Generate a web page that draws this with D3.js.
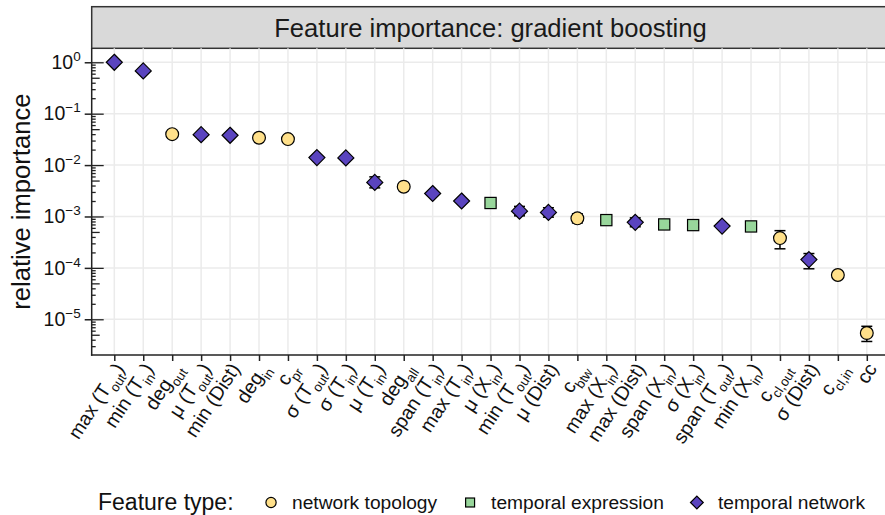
<!DOCTYPE html>
<html>
<head>
<meta charset="utf-8">
<script src="https://cdn.jsdelivr.net/npm/d3@7"></script>
<style>
  body { margin: 0; background: #fff; }
  svg { display: block; font-family: "Liberation Sans", Arial, sans-serif; }
</style>
</head>
<body>
<svg id="chart" width="885" height="515"></svg>
<script>
// feature labels, "_{..}" marks a subscript
const features = [
  "max (T_{out})", "min (T_{in})", "deg_{out}", "μ (T_{out})", "min (Dist)",
  "deg_{in}", "c_{pr}", "σ (T_{out})", "σ (T_{in})", "μ (T_{in})",
  "deg_{all}", "span (T_{in})", "max (T_{in})", "μ (X_{in})", "min (T_{out})",
  "μ (Dist)", "c_{btw}", "max (X_{in})", "max (Dist)", "span (X_{in})",
  "σ (X_{in})", "span (T_{out})", "min (X_{in})", "c_{cl,out}", "σ (Dist)",
  "c_{cl,in}", "cc"
];
// N = network topology, E = temporal expression, T = temporal network
const featureType = [
  "T", "T", "N", "T", "T", "N", "N", "T", "T", "T",
  "N", "T", "T", "E", "T", "T", "N", "E", "T", "E",
  "E", "T", "E", "N", "T", "N", "N"
];
const importance = [
  1.0, 0.68, 0.040, 0.039, 0.038, 0.034, 0.032, 0.0140, 0.0138, 0.0046,
  0.0038, 0.0028, 0.0020, 0.00183, 0.00127, 0.00120, 0.00092, 0.00085, 0.00077, 0.00070,
  0.00068, 0.00065, 0.00064, 0.00038, 0.000145, 0.0000727, 0.0000054
];
const lower = [
  0.94, 0.64, 0.036, 0.037, 0.036, 0.031, 0.029, 0.0132, 0.0130, 0.0036,
  0.0034, 0.00265, 0.00189, 0.00165, 0.00103, 0.00097, 0.00075, 0.00078, 0.00063, 0.00064,
  0.00062, 0.00061, 0.00058, 0.000235, 0.000096, 0.000066, 0.0000037
];
const upper = [
  1.06, 0.72, 0.044, 0.041, 0.040, 0.037, 0.035, 0.0148, 0.0146, 0.0059,
  0.0042, 0.00296, 0.00212, 0.00203, 0.00157, 0.00148, 0.00113, 0.00093, 0.00094, 0.00077,
  0.00074, 0.00069, 0.0007, 0.00053, 0.00019, 0.00008, 0.0000073
];
const yTicks = [1, 1e-1, 1e-2, 1e-3, 1e-4, 1e-5];
const legendTypes = ["N", "E", "T"];
const legendLabels = ["network topology", "temporal expression", "temporal network"];

const typeFill = { N: "#FFE08A", E: "#98D69B", T: "#5A44BF" };

const data = features.map((f, i) => ({
  name: f, type: featureType[i], v: importance[i], lo: lower[i], hi: upper[i]
}));

const svg = d3.select("#chart");
const panel = { left: 91.7, right: 892, top: 48.3, bottom: 355 };

const x = d3.scalePoint().domain(features).range([114.3, 866.8]);
const y = d3.scaleLog()
  .domain([Math.pow(10, -5.695), Math.pow(10, 0.272)])
  .range([panel.bottom, panel.top]);

// strip
svg.append("rect")
  .attr("x", panel.left).attr("y", 6.7)
  .attr("width", panel.right - panel.left).attr("height", panel.top - 6.7)
  .attr("fill", "#D9D9D9").attr("stroke", "#333").attr("stroke-width", 1.5);
svg.append("text")
  .attr("x", 490.5).attr("y", 36.5)
  .attr("text-anchor", "middle").attr("font-size", 25.6).attr("fill", "#1a1a1a")
  .text("Feature importance: gradient boosting");

// grid
const grid = svg.append("g").attr("stroke", "#EBEBEB").attr("stroke-width", 1.5);
grid.selectAll(".gy").data(yTicks).enter().append("line")
  .attr("x1", panel.left).attr("x2", panel.right)
  .attr("y1", d => y(d)).attr("y2", d => y(d));
grid.selectAll(".gx").data(features).enter().append("line")
  .attr("x1", d => x(d)).attr("x2", d => x(d))
  .attr("y1", panel.top).attr("y2", panel.bottom);

// y axis
const yAxis = svg.append("g")
  .attr("transform", `translate(${panel.left},0)`)
  .call(d3.axisLeft(y).tickValues(yTicks).tickSize(7).tickPadding(4).tickFormat(() => ""));
yAxis.select(".domain").remove();
yAxis.selectAll(".tick line").attr("stroke", "#222").attr("stroke-width", 1.5);
yAxis.selectAll(".tick text").each(function(d) {
  const t = d3.select(this).attr("font-size", 19.5).attr("fill", "#111").attr("font-family", null);
  t.append("tspan").text("10");
  const e = Math.round(Math.log10(d));
  t.append("tspan").attr("font-size", 13.5).attr("dy", -8)
    .text(e < 0 ? "\u2212" + (-e) : String(e));
});

// log ticks inside the panel
const minors = [], fives = [];
for (let e = -6; e <= 0; e++) {
  for (let m = 2; m <= 9; m++) {
    const v = m * Math.pow(10, e);
    if (v < y.domain()[0] || v > y.domain()[1]) continue;
    (m === 5 ? fives : minors).push(v);
  }
}
[[minors, 4], [fives, 8], [yTicks, 12]].forEach(([vals, len]) => {
  const g = svg.append("g")
    .attr("transform", `translate(${panel.left},0)`)
    .call(d3.axisRight(y).tickValues(vals).tickSize(len).tickFormat(""));
  g.select(".domain").remove();
  g.selectAll(".tick line").attr("stroke", "#222").attr("stroke-width", 1.3);
});

// x axis
const xAxis = svg.append("g")
  .attr("transform", `translate(0,${panel.bottom})`)
  .call(d3.axisBottom(x).tickSize(6).tickFormat(""));
xAxis.select(".domain").remove();
xAxis.selectAll(".tick line").attr("stroke", "#222").attr("stroke-width", 1.5);

function richText(sel, label, size) {
  const parts = label.split(/(_\{[^}]*\})/).filter(p => p.length);
  let shifted = false;
  parts.forEach(p => {
    if (p.startsWith("_{")) {
      sel.append("tspan").attr("font-size", size * 0.68).attr("dy", size * 0.32)
        .text(p.slice(2, -1));
      shifted = true;
    } else {
      const ts = sel.append("tspan").text(p);
      if (shifted) { ts.attr("dy", -size * 0.32); shifted = false; }
    }
  });
}

svg.append("g").selectAll("text").data(features).enter().append("text")
  .attr("transform", d => `translate(${x(d) + 5},${panel.bottom + 10}) rotate(-57)`)
  .attr("text-anchor", "end").attr("dy", "0.35em")
  .attr("font-size", 19.5).attr("fill", "#111")
  .each(function(d) { richText(d3.select(this), d, 19.5); });

// axis lines
svg.append("line").attr("x1", panel.left).attr("x2", panel.left)
  .attr("y1", panel.top).attr("y2", panel.bottom + 0.75)
  .attr("stroke", "#222").attr("stroke-width", 1.5);
svg.append("line").attr("x1", panel.left - 0.75).attr("x2", panel.right)
  .attr("y1", panel.bottom).attr("y2", panel.bottom)
  .attr("stroke", "#222").attr("stroke-width", 1.5);

// y title
svg.append("text")
  .attr("transform", `translate(30,${(panel.top + panel.bottom) / 2}) rotate(-90)`)
  .attr("text-anchor", "middle").attr("font-size", 25.6).attr("fill", "#111")
  .text("relative importance");

// error bars
const eb = svg.append("g").attr("stroke", "#000").attr("stroke-width", 1.5);
data.forEach(d => {
  const cx = x(d.name);
  eb.append("line").attr("x1", cx).attr("x2", cx).attr("y1", y(d.lo)).attr("y2", y(d.hi));
  eb.append("line").attr("x1", cx - 5.5).attr("x2", cx + 5.5).attr("y1", y(d.lo)).attr("y2", y(d.lo));
  eb.append("line").attr("x1", cx - 5.5).attr("x2", cx + 5.5).attr("y1", y(d.hi)).attr("y2", y(d.hi));
});

function marker(g, type, cx, cy, s) {
  let m;
  if (type === "N") {
    m = g.append("circle").attr("cx", cx).attr("cy", cy).attr("r", 6.4 * s);
  } else if (type === "E") {
    const h = 5.6 * s;
    m = g.append("rect").attr("x", cx - h).attr("y", cy - h).attr("width", 2 * h).attr("height", 2 * h);
  } else {
    const h = 8 * s;
    m = g.append("path").attr("d", `M${cx},${cy - h}L${cx + h},${cy}L${cx},${cy + h}L${cx - h},${cy}Z`);
  }
  m.attr("fill", typeFill[type]).attr("stroke", "#000").attr("stroke-width", 1.2);
}

const pts = svg.append("g");
data.forEach(d => marker(pts, d.type, x(d.name), y(d.v), 1));

// legend
const leg = svg.append("g");
const title = leg.append("text").attr("x", 98).attr("y", 510).attr("font-size", 23).attr("fill", "#111")
  .text("Feature type:");
let cursor = 98 + title.node().getComputedTextLength();
legendTypes.forEach((t, i) => {
  const kx = cursor + (i === 0 ? 37.5 : 33);
  marker(leg, t, kx, 502.5, 0.8);
  const lab = leg.append("text").attr("x", kx + 21).attr("y", 509).attr("font-size", 19.2)
    .attr("fill", "#111").text(legendLabels[i]);
  cursor = kx + 21 + lab.node().getComputedTextLength();
});
</script>
</body>
</html>
